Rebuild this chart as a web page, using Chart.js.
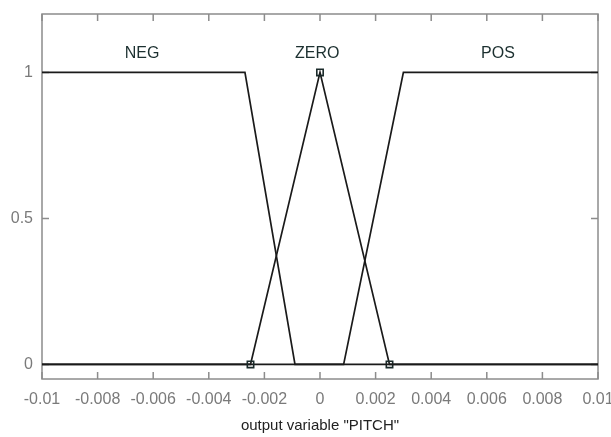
<!DOCTYPE html>
<html>
<head>
<meta charset="utf-8">
<script src="https://cdn.jsdelivr.net/npm/chart.js@4.4.1/dist/chart.umd.min.js"></script>
<style>
  html, body { margin: 0; padding: 0; background: #fff; }
  canvas { display: block; }
</style>
</head>
<body>
<canvas id="mf" width="611" height="437"></canvas>
<script>
// membership functions of output variable "PITCH"
const mfNames = ["NEG", "ZERO", "POS"];
const negX = [-0.01, -0.0027, -0.0009, 0.01];
const negY = [1, 1, 0, 0];
const zeroX = [-0.01, -0.0025, 0, 0.0025, 0.01];
const zeroY = [0, 0, 1, 0, 0];
const posX = [-0.01, 0.00085, 0.003, 0.01];
const posY = [0, 0, 1, 1];
// where the names sit (x of the plateau/peak centre)
const labelX = [-0.0064, -0.0001, 0.0064];
const labelY = 1.065;
const xTicks = [-0.01, -0.008, -0.006, -0.004, -0.002, 0, 0.002, 0.004, 0.006, 0.008, 0.01];
const yTicks = [0, 0.5, 1];

const FONT = "'Liberation Sans Narrow', 'Arial Narrow', 'Liberation Sans', sans-serif";

function pts(xs, ys) {
  return xs.map((x, i) => ({ x: x, y: ys[i] }));
}

// box frame, inward ticks and MF names, drawn through the scales
const matlabAxes = {
  id: "matlabAxes",
  beforeDatasetsDraw(chart) {
    const ctx = chart.ctx;
    const a = chart.chartArea;
    const xs = chart.scales.x;
    const ys = chart.scales.y;
    ctx.save();
    ctx.strokeStyle = "#8c8c8c";
    ctx.lineWidth = 1.5;
    ctx.strokeRect(a.left, a.top, a.right - a.left, a.bottom - a.top);
    ctx.beginPath();
    const len = 7;
    xTicks.forEach((v) => {
      const px = xs.getPixelForValue(v);
      ctx.moveTo(px, a.bottom);
      ctx.lineTo(px, a.bottom - len);
      ctx.moveTo(px, a.top);
      ctx.lineTo(px, a.top + len);
    });
    yTicks.forEach((v) => {
      const py = ys.getPixelForValue(v);
      ctx.moveTo(a.left, py);
      ctx.lineTo(a.left + len, py);
      ctx.moveTo(a.right, py);
      ctx.lineTo(a.right - len, py);
    });
    ctx.stroke();
    ctx.restore();
  },
  afterDatasetsDraw(chart) {
    const ctx = chart.ctx;
    const xs = chart.scales.x;
    const ys = chart.scales.y;
    ctx.save();
    ctx.fillStyle = "#1c3030";
    ctx.font = "16px " + FONT;
    ctx.textAlign = "center";
    ctx.textBaseline = "middle";
    mfNames.forEach((name, i) => {
      ctx.fillText(name, xs.getPixelForValue(labelX[i]), ys.getPixelForValue(labelY));
    });
    ctx.restore();
  },
};

const lineStyle = {
  borderColor: "#1a1a1a",
  borderWidth: 1.7,
  tension: 0,
  fill: false,
  pointRadius: 0,
};

new Chart(document.getElementById("mf").getContext("2d"), {
  type: "line",
  data: {
    datasets: [
      Object.assign({ label: mfNames[0], data: pts(negX, negY) }, lineStyle),
      Object.assign({}, lineStyle, {
        label: mfNames[1],
        data: pts(zeroX, zeroY),
        pointStyle: "rect",
        pointRadius: [0, 4.5, 4.5, 4.5, 0],
        pointBackgroundColor: "rgba(255,255,255,0)",
        pointBorderColor: "#1a2a2a",
        pointBorderWidth: 1.6,
      }),
      Object.assign({ label: mfNames[2], data: pts(posX, posY) }, lineStyle),
    ],
  },
  options: {
    responsive: false,
    animation: false,
    layout: { padding: { top: 14, right: 13, left: 0, bottom: 0 } },
    plugins: {
      legend: { display: false },
      tooltip: { enabled: false },
    },
    scales: {
      x: {
        type: "linear",
        min: -0.01,
        max: 0.01,
        afterBuildTicks: (scale) => {
          scale.ticks = xTicks.map((v) => ({ value: v }));
        },
        afterFit: (scale) => {
          scale.height = 58;
          scale.paddingLeft = 0;
          scale.paddingRight = 0;
        },
        grid: { display: false, drawTicks: false },
        border: { display: false },
        ticks: {
          color: "#7a7a7a",
          padding: 11,
          maxRotation: 0,
          autoSkip: false,
          font: { family: FONT, size: 16 },
          callback: (v) => Number(v.toFixed(4)).toString(),
        },
        title: {
          display: true,
          text: 'output variable "PITCH"',
          color: "#222",
          font: { family: FONT, size: 15 },
          padding: { top: 4, bottom: 2 },
        },
      },
      y: {
        min: -0.05,
        max: 1.2,
        afterBuildTicks: (scale) => {
          scale.ticks = yTicks.map((v) => ({ value: v }));
        },
        afterFit: (scale) => {
          scale.width = 42;
          scale.paddingTop = 0;
          scale.paddingBottom = 0;
        },
        grid: { display: false, drawTicks: false },
        border: { display: false },
        ticks: {
          color: "#7a7a7a",
          padding: 9,
          font: { family: FONT, size: 16 },
          callback: (v) => String(v),
        },
      },
    },
  },
  plugins: [matlabAxes],
});
</script>
</body>
</html>
